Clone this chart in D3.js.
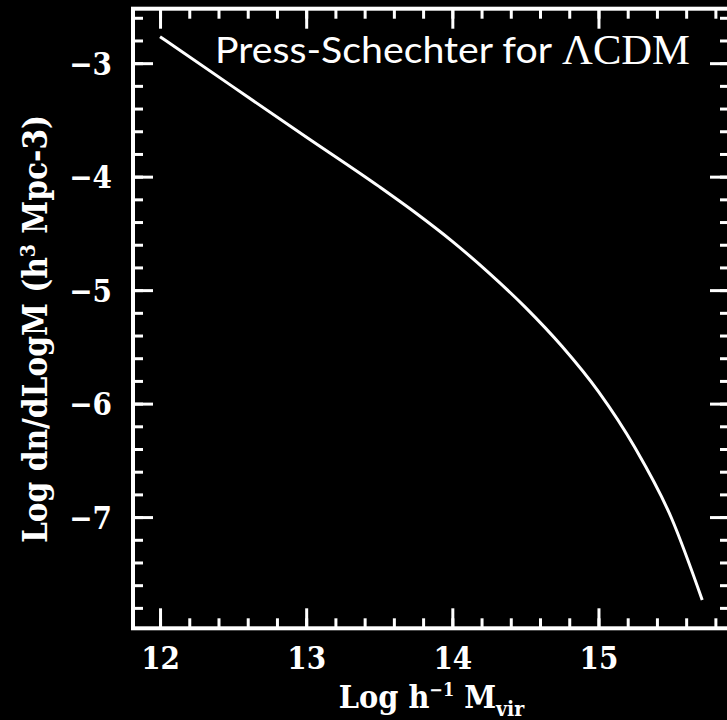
<!DOCTYPE html>
<html><head><meta charset="utf-8">
<script src="https://cdn.jsdelivr.net/npm/d3@7"></script>
<style>html,body{margin:0;padding:0;background:#000;overflow:hidden}</style>
</head><body><svg id="c" width="727" height="720"></svg>
<script>
// Data
const logMass = [12.0, 12.5, 13.0, 13.5, 13.75, 14.0, 14.25, 14.5, 14.75, 15.0, 15.25, 15.5, 15.71];
const logDn   = [-2.767, -3.209, -3.650, -4.088, -4.320, -4.570, -4.848, -5.152, -5.495, -5.895, -6.390, -7.010, -7.730];
const xTicks = [12, 13, 14, 15];
const yTicks = [-7, -6, -5, -4, -3];
const xDomain = [11.815, 15.9];
const yDomain = [-7.98, -2.52];
const titleText = "Press-Schechter for";
const titleSym = "\u039BCDM";

const svg = d3.select("#c");
svg.append("rect").attr("width", 727).attr("height", 720).attr("fill", "#000");

const x = d3.scaleLinear().domain(xDomain).range([133, 730]);
const y = d3.scaleLinear().domain(yDomain).range([628.3, 8.7]);

const xMinor = d3.range(11.8, 15.81, 0.2).map(v => +v.toFixed(1)).filter(v => v >= xDomain[0] && v <= xDomain[1]);
const yMinor = d3.range(-7.8, -2.59, 0.2).map(v => +v.toFixed(1));

const tickFont = "'DejaVu Serif', serif";

function styleAxis(g) {
  g.select(".domain").remove();
  g.selectAll(".tick line").attr("stroke", "#fff").attr("stroke-width", 3);
  g.selectAll(".tick text").attr("fill", "#fff")
    .style("font-family", tickFont).style("font-weight", "bold")
    .style("font-stretch", "condensed").style("font-size", "31px");
}

const B = y.range()[0], T = y.range()[1], L = x.range()[0], R = x.range()[1];

// minor ticks
svg.append("g").attr("transform", `translate(0,${B})`)
  .call(d3.axisBottom(x).tickValues(xMinor).tickSize(-10).tickFormat("")).call(styleAxis);
svg.append("g").attr("transform", `translate(0,${T})`)
  .call(d3.axisTop(x).tickValues(xMinor).tickSize(-10).tickFormat("")).call(styleAxis);
svg.append("g").attr("transform", `translate(${L},0)`)
  .call(d3.axisLeft(y).tickValues(yMinor).tickSize(-10).tickFormat("")).call(styleAxis);
svg.append("g").attr("transform", `translate(${R},0)`)
  .call(d3.axisRight(y).tickValues(yMinor).tickSize(-10).tickFormat("")).call(styleAxis);

// major ticks
const gxb = svg.append("g").attr("transform", `translate(0,${B})`)
  .call(d3.axisBottom(x).tickValues(xTicks).tickSize(-20).tickPadding(18).tickFormat(d3.format("d"))).call(styleAxis);
gxb.selectAll(".tick text").attr("dy", null).attr("y", 41);
svg.append("g").attr("transform", `translate(0,${T})`)
  .call(d3.axisTop(x).tickValues(xTicks).tickSize(-20).tickFormat("")).call(styleAxis);
const gyl = svg.append("g").attr("transform", `translate(${L},0)`)
  .call(d3.axisLeft(y).tickValues(yTicks).tickSize(-20).tickPadding(21).tickFormat(d3.format("d"))).call(styleAxis);
gyl.selectAll(".tick text").attr("dy", "0.36em");
svg.append("g").attr("transform", `translate(${R},0)`)
  .call(d3.axisRight(y).tickValues(yTicks).tickSize(-20).tickFormat("")).call(styleAxis);

// frame
svg.append("rect").attr("x", L).attr("y", T).attr("width", R - L).attr("height", B - T)
  .attr("fill", "none").attr("stroke", "#fff").attr("stroke-width", 4);

// curve
const pts = logMass.map((m, i) => [m, logDn[i]]);
svg.append("path").datum(pts)
  .attr("d", d3.line().x(d => x(d[0])).y(d => y(d[1])).curve(d3.curveMonotoneX))
  .attr("fill", "none").attr("stroke", "#fff").attr("stroke-width", 3);

// x label
const xl = svg.append("text").attr("x", (L + R) / 2).attr("y", 708).attr("text-anchor", "middle")
  .attr("fill", "#fff").style("font-family", tickFont).style("font-weight", "bold")
  .style("font-stretch", "condensed").style("font-size", "32px");
xl.append("tspan").text("Log h");
xl.append("tspan").attr("dy", -12).style("font-size", "18px").text("\u22121");
xl.append("tspan").attr("dy", 12).text(" M");
xl.append("tspan").attr("dy", 8).style("font-size", "21px").text("vir");

// y label
const yl = svg.append("text").attr("transform", "translate(47,329) rotate(-90)").attr("text-anchor", "middle")
  .attr("fill", "#fff").style("font-family", tickFont).style("font-weight", "bold")
  .style("font-stretch", "condensed").style("font-size", "33px");
yl.append("tspan").text("Log dn/dLogM (h");
yl.append("tspan").attr("dy", -12).style("font-size", "21px").text("3");
yl.append("tspan").attr("dy", 12).text(" Mpc-3)");

// title
svg.append("text").attr("x", 215).attr("y", 63).attr("fill", "#fff")
  .style("font-family", "Lato, 'Open Sans', sans-serif").style("font-size", "37px")
  .attr("textLength", 337).attr("lengthAdjust", "spacingAndGlyphs").text(titleText);
svg.append("text").attr("x", 562).attr("y", 64).attr("fill", "#fff")
  .style("font-family", "'Liberation Serif', serif").style("font-size", "42px")
  .attr("textLength", 128).attr("lengthAdjust", "spacingAndGlyphs").text(titleSym);
</script></body></html>
